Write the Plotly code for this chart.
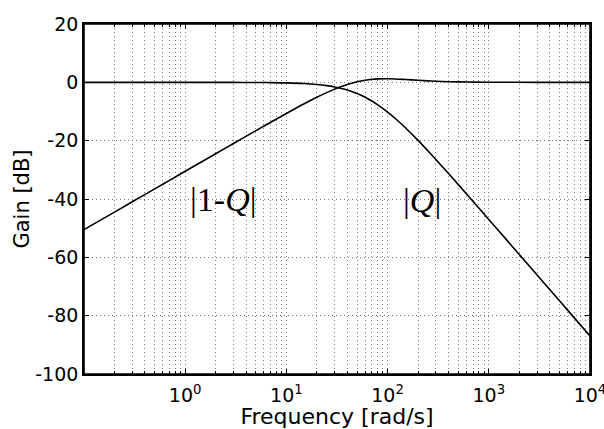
import plotly.graph_objects as go

# Frequencies [rad/s] and gains [dB]
freq = [0.1, 0.2, 0.3, 0.5, 0.7, 1, 2, 3, 5, 7, 10, 15, 20, 25, 30, 35, 40, 50, 60, 70, 80,
        100, 120, 150, 200, 250, 300, 400, 500, 700, 1000, 1500, 2000, 3000, 5000, 7000, 10000]
gain_Q = [0.0, 0.0, 0.0, 0.0, 0.0, 0.0, 0.0, -0.02, -0.05, -0.09, -0.19, -0.42, -0.74, -1.13,
          -1.59, -2.10, -2.65, -3.85, -5.11, -6.41, -7.70, -10.18, -12.48, -15.58, -19.92,
          -23.48, -26.46, -31.28, -35.07, -40.84, -47.00, -54.02, -59.01, -66.05, -74.92,
          -80.76, -86.96]
gain_1mQ = [-50.50, -44.48, -40.96, -36.52, -33.60, -30.50, -24.49, -20.97, -16.56, -13.68,
            -10.67, -7.35, -5.13, -3.53, -2.33, -1.43, -0.74, 0.20, 0.74, 1.04, 1.19, 1.24,
            1.16, 0.97, 0.69, 0.49, 0.37, 0.22, 0.15, 0.08, 0.04, 0.02, 0.01, 0.0, 0.0, 0.0, 0.0]

x_tickvals = [1, 10, 100, 1000, 10000]
x_ticktext = ["10<sup>0</sup>", "10<sup>1</sup>", "10<sup>2</sup>", "10<sup>3</sup>", "10<sup>4</sup>"]
x_minor = [m * 10 ** e for e in range(-1, 4) for m in range(2, 10)]
y_tickvals = [-100, -80, -60, -40, -20, 0, 20]
y_ticktext = ["-100", "-80", "-60", "-40", "-20", "0", "20"]

labels = ["|1-<i>Q</i>|", "|<i>Q</i>|"]
label_pos = [(0.375, -40.0), (2.34, -40.5)]

sans = "DejaVu Sans"
grid_col = "#7a7a7a"
grid_dash = "1px,3px"

fig = go.Figure()
fig.add_trace(go.Scatter(x=freq, y=gain_Q, mode="lines", line=dict(color="black", width=1.6, shape="spline"),
                         showlegend=False, hoverinfo="skip"))
fig.add_trace(go.Scatter(x=freq, y=gain_1mQ, mode="lines", line=dict(color="black", width=1.6, shape="spline"),
                         showlegend=False, hoverinfo="skip"))

for txt, (lx, ly) in zip(labels, label_pos):
    fig.add_annotation(x=lx, y=ly, xref="x", yref="y", text=txt, showarrow=False,
                       font=dict(family="Liberation Serif", size=34, color="black"),
                       xanchor="center", yanchor="middle")

# axes frame
fig.add_shape(type="rect", xref="paper", yref="paper", x0=0, x1=1, y0=0, y1=1,
              line=dict(color="black", width=1.6), fillcolor="rgba(0,0,0,0)", layer="above")

fig.update_layout(
    width=604, height=429,
    margin=dict(l=84, r=14, t=24, b=55, autoexpand=False),
    paper_bgcolor="white", plot_bgcolor="white",
    font=dict(family=sans, color="black"),
    xaxis=dict(
        type="log", range=[-1, 4.00001], automargin=False,
        tickmode="array", tickvals=x_tickvals, ticktext=x_ticktext,
        tickfont=dict(family=sans, size=19, color="black"), ticklabelstandoff=3,
        ticklabeloverflow="allow",
        ticks="inside", ticklen=5, tickwidth=1, tickcolor="black",
        showline=True, linecolor="black", linewidth=1.6, mirror="allticks",
        showgrid=True, gridcolor=grid_col, griddash=grid_dash, gridwidth=1,
        minor=dict(tickmode="array", tickvals=x_minor, ticks="inside", ticklen=3,
                   tickcolor="black", showgrid=True, gridcolor=grid_col,
                   griddash=grid_dash, gridwidth=1),
        title=dict(text="Frequency [rad/s]", font=dict(family=sans, size=22, color="black"), standoff=0),
        zeroline=False,
    ),
    yaxis=dict(
        range=[-100, 20], automargin=False,
        tickmode="array", tickvals=y_tickvals, ticktext=y_ticktext,
        tickfont=dict(family=sans, size=19, color="black"),
        ticks="inside", ticklen=5, tickwidth=1, tickcolor="black",
        showline=True, linecolor="black", linewidth=1.6, mirror="allticks",
        showgrid=True, gridcolor=grid_col, griddash=grid_dash, gridwidth=1,
        title=dict(text="Gain [dB]", font=dict(family=sans, size=21, color="black"), standoff=0),
        zeroline=False,
    ),
)

fig.write_html("out.html", config={"displayModeBar": False},
               post_script="document.body.style.margin='0';document.body.style.overflow='hidden';")
